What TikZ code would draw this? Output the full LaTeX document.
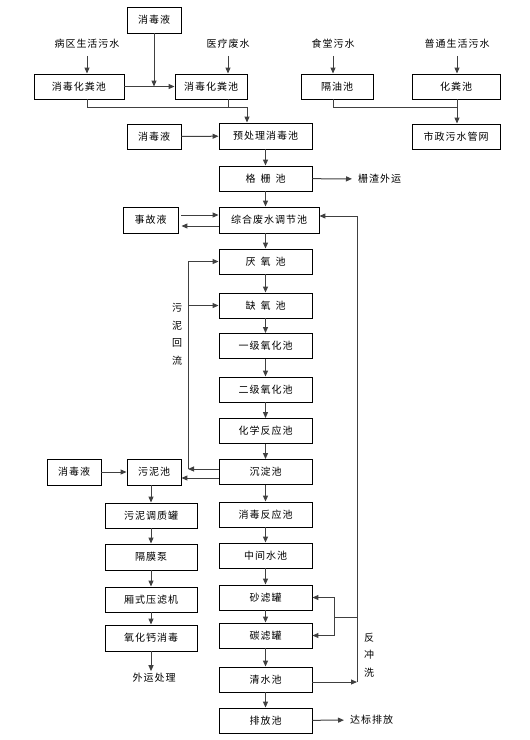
\documentclass[tikz,border=0pt]{standalone}
\usepackage{fontspec}
\usepackage{tikz}
\usetikzlibrary{arrows.meta}
\newfontfamily\cjk[LetterSpace=10]{Noto Sans CJK SC}
\newcommand{\gp}{\hspace{5pt}}

\begin{document}
\begin{tikzpicture}[x=1pt, y=-1pt,
  every node/.style={font=\cjk\fontsize{10}{17.5}\selectfont},
  box/.style={draw, line width=0.9pt, minimum height=25pt, inner sep=0pt},
  txt/.style={inner sep=2pt},
  ln/.style={line width=1pt, black!75},
  arr/.style={ln, -{Triangle[length=6pt,width=5pt]}}]
\useasboundingbox (0,0) rectangle (530,740);

% inflows
\node[txt] (bq) at (87,44) {病区生活污水};
\node[txt] (yl) at (228,44) {医疗废水};
\node[txt] (st) at (333,44) {食堂污水};
\node[txt] (pt) at (457,44) {普通生活污水};
\node[box, minimum width=54pt, minimum height=26pt] (xd1) at (154,20) {消毒液};
\node[box, minimum width=90pt] (hf1) at (79,86.5) {消毒化粪池};
\node[box, minimum width=72pt] (hf2) at (211,86.5) {消毒化粪池};
\node[box, minimum width=72pt] (gy) at (337,86.5) {隔油池};
\node[box, minimum width=88pt] (hfc) at (456,86.5) {化粪池};
\node[box, minimum width=88pt] (sz) at (456,136.5) {市政污水管网};
\node[box, minimum width=54pt] (xd2) at (154,136.5) {消毒液};
\coordinate (m1) at (247,107);

% main line
\node[box, minimum width=93pt, minimum height=26pt] (yc) at (265.5,136) {预处理消毒池};
\node[box, minimum width=93pt] (gs) at (265.5,178.5) {格\gp 栅\gp 池};
\node[txt, anchor=west] (zz) at (356,179) {栅渣外运};
\node[box, minimum width=100pt, minimum height=26pt] (tj) at (269,220) {综合废水调节池};
\node[box, minimum width=55pt, minimum height=26pt] (sg) at (150.5,220) {事故液};
\node[box, minimum width=93pt] (ya) at (265.5,261.5) {厌\gp 氧\gp 池};
\node[box, minimum width=93pt] (qy) at (265.5,305.5) {缺\gp 氧\gp 池};
\node[box, minimum width=93pt] (yj) at (265.5,346) {一级氧化池};
\node[box, minimum width=93pt] (ej) at (265.5,389.5) {二级氧化池};
\node[box, minimum width=93pt] (hx) at (265.5,431) {化学反应池};
\node[box, minimum width=93pt] (cd) at (265.5,472) {沉淀池};
\node[box, minimum width=93pt] (xf) at (265.5,514.5) {消毒反应池};
\node[box, minimum width=93pt] (zj) at (265.5,555.5) {中间水池};
\node[box, minimum width=93pt] (sl) at (265.5,597.5) {砂滤罐};
\node[box, minimum width=93pt] (tl) at (265.5,635.5) {碳滤罐};
\node[box, minimum width=93pt] (qs) at (265.5,679.5) {清水池};
\node[box, minimum width=93pt] (pf) at (265.5,720.5) {排放池};
\node[txt, anchor=west] (db) at (348,720) {达标排放};

% sludge line
\node[box, minimum width=54pt, minimum height=26pt] (wn) at (154,472) {污泥池};
\node[box, minimum width=54pt, minimum height=26pt] (xd3) at (74,472) {消毒液};
\node[box, minimum width=92pt] (tz) at (151,515.5) {污泥调质罐};
\node[box, minimum width=92pt, minimum height=26pt] (gm) at (151,557) {隔膜泵};
\node[box, minimum width=92pt] (xs) at (151,599.5) {厢式压滤机};
\node[box, minimum width=92pt, minimum height=26pt] (yh) at (151,638) {氧化钙消毒};
\node[txt] (wy) at (154,678) {外运处理};
\node[txt, align=center] (hl) at (177,334) {污\\泥\\回\\流};
\node[txt, align=center] (fc) at (369,655) {反\\冲\\洗};
\coordinate (r1) at (188,469);
\coordinate (b1) at (357,682);
\coordinate (b2) at (334,617);

\draw[arr] ([yshift=-5pt]bq.south) -- (bq.south |- hf1.north);
\draw[arr] ([yshift=-5pt]yl.south) -- (yl.south |- hf2.north);
\draw[arr] ([yshift=-5pt]st.south) -- (st.south |- gy.north);
\draw[arr] ([yshift=-5pt]pt.south) -- (pt.south |- hfc.north);
\draw[arr] (hf1) -- (hf2);
\draw[arr] (xd1) -- (xd1 |- hf1);
\draw[ln] (hf1.south -| bq) |- (m1);
\draw[ln] (hf2.south -| yl) -- (yl |- m1);
\draw[arr] (m1) -- (m1 |- yc.north);
\draw[ln] (gy.south -| st) |- (pt |- m1);
\draw[arr] (hfc.south -| pt) -- (sz.north -| pt);
\draw[arr] (xd2) -- (yc);
\draw[arr] (yc) -- (gs);
\draw[arr, shorten >=4pt] (gs) -- (zz);
\draw[arr] (gs) -- (gs |- tj.north);
\draw[arr, shorten <=3pt] ([yshift=5pt]sg.east) -- ([yshift=5pt]sg.east -| tj.west);
\draw[arr, shorten >=3pt] ([yshift=-6pt]tj.west) -- ([yshift=-6pt]tj.west -| sg.east);
\draw[arr] (ya |- tj.south) -- (ya);
\foreach \a/\b in {ya/qy, qy/yj, yj/ej, ej/hx, hx/cd, cd/xf, xf/zj, zj/sl, sl/tl, tl/qs, qs/pf}
  \draw[arr] (\a) -- (\b);
\draw[arr, shorten >=4pt] (pf) -- (db);

% sludge return
\draw[arr] ([yshift=3pt]cd.west) -- (r1);
\draw[arr] (r1) |- (ya.west);
\draw[arr] (r1 |- qy.west) -- (qy.west);
\draw[arr] ([yshift=-6pt]cd.west) -- ([yshift=-6pt]cd.west -| wn.east);
\draw[arr] (xd3) -- (wn);
\draw[arr] (wn.south -| tz) -- (tz);
\foreach \a/\b in {tz/gm, gm/xs, xs/yh}
  \draw[arr] (\a) -- (\b);
\draw[arr] (yh) -- (yh |- wy.north);

% backwash
\draw[arr] (qs.east |- b1) -- (b1);
\draw[arr] (b1) |- ([yshift=4pt]tj.east);
\draw[ln] (b1 |- b2) -- (b2);
\draw[arr] (b2) |- (sl.east);
\draw[arr] (b2) |- (tl.east);
\end{tikzpicture}
\end{document}
